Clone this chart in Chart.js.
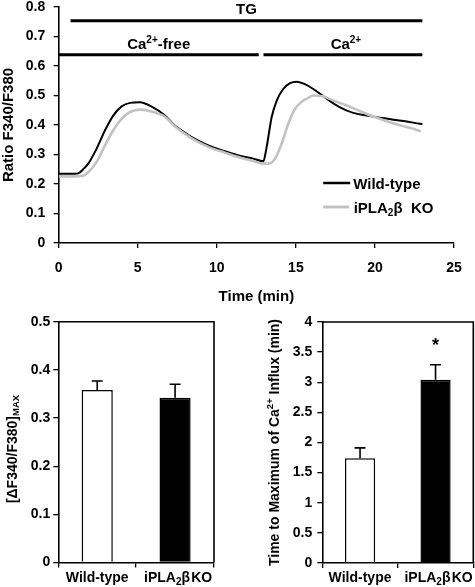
<!DOCTYPE html>
<html><head><meta charset="utf-8">
<script src="https://cdn.jsdelivr.net/npm/chart.js@4.4.1/dist/chart.umd.min.js"></script>
<style>
html,body{margin:0;padding:0;background:#fff;}
#wrap{position:relative;width:475px;height:587px;overflow:hidden;background:#fff;}
canvas{position:absolute;}
</style></head><body>
<div id="wrap">
<canvas id="topChart" width="475" height="312" style="left:0;top:0"></canvas>
<canvas id="barL" width="240" height="287" style="left:0;top:300px"></canvas>
<canvas id="barR" width="235" height="287" style="left:240px;top:300px"></canvas>
</div>
<script>
// ---------- data ----------
const wtTime  = [0, 0.5, 1.0, 1.24, 1.55, 1.87, 2.4, 2.93, 3.45, 3.98, 4.51, 5.14, 5.88, 6.72, 7.36, 7.88, 8.41, 9.46, 10.52, 11.57, 12.3, 12.94, 13.15, 13.47, 13.79, 14.2, 14.63, 15.05, 15.5, 16.1, 16.95, 17.79, 18.63, 19.48, 20.32, 21.16, 22.01, 22.85, 23.0];
const wtRatio = [0.235, 0.235, 0.235, 0.236, 0.25, 0.269, 0.32, 0.382, 0.432, 0.463, 0.475, 0.477, 0.462, 0.432, 0.397, 0.378, 0.359, 0.331, 0.311, 0.294, 0.286, 0.277, 0.325, 0.427, 0.483, 0.522, 0.542, 0.547, 0.54, 0.522, 0.489, 0.46, 0.441, 0.432, 0.425, 0.418, 0.412, 0.404, 0.403];
const koTime  = [0, 0.5, 1.0, 1.45, 1.87, 2.4, 2.93, 3.45, 3.98, 4.51, 5.14, 5.88, 6.72, 7.36, 8.41, 9.46, 10.52, 11.57, 12.3, 12.9, 13.26, 13.68, 14.1, 14.52, 14.95, 15.47, 15.68, 16.1, 16.73, 17.37, 18.22, 19.06, 19.9, 20.75, 21.59, 22.43, 22.9];
const koRatio = [0.226, 0.226, 0.226, 0.227, 0.24, 0.275, 0.331, 0.382, 0.421, 0.444, 0.452, 0.446, 0.428, 0.395, 0.355, 0.326, 0.306, 0.288, 0.278, 0.269, 0.269, 0.286, 0.337, 0.404, 0.455, 0.483, 0.489, 0.5, 0.497, 0.483, 0.466, 0.447, 0.429, 0.413, 0.399, 0.387, 0.379];

const tgSpan = [0.75, 23];      const tgLevel = 0.753;
const freeSpan = [0, 12.65];    const caSpan = [12.95, 23];   const bathLevel = 0.638;

const barCategories = ['Wild-type', 'iPLA2β KO'];
const deltaMaxMean = [0.358, 0.342];
const deltaMaxErr  = [0.019, 0.028];
const timeMaxMean  = [1.74, 3.04];
const timeMaxErr   = [0.17, 0.25];
const significant  = [false, true];

// ---------- helpers ----------
const F = '"Liberation Sans", Arial, Helvetica, sans-serif';
Chart.defaults.font.family = F;
Chart.defaults.font.weight = 'bold';
Chart.defaults.color = '#000';
function pts(xs, ys){ return xs.map((x,i)=>({x:x, y:ys[i]})); }
function richWidth(ctx, parts){ let w=0; parts.forEach(p=>{ctx.font='bold '+p[1]+'px '+F; w+=ctx.measureText(p[0]).width;}); return w; }
function drawRich(ctx, parts, x, y, align){
  const w = richWidth(ctx, parts);
  let cx = align==='center' ? x - w/2 : (align==='right' ? x - w : x);
  ctx.textAlign='left'; ctx.textBaseline='alphabetic'; ctx.fillStyle='#000';
  parts.forEach(p=>{ ctx.font='bold '+p[1]+'px '+F; ctx.fillText(p[0], cx, y + (p[2]||0)); cx += ctx.measureText(p[0]).width; });
}
function labelParts(lbl, size){
  if (lbl.indexOf('iPLA2') === 0) return [['iPLA',size],['2',Math.round(size*0.7),3],[lbl.slice(5).replace(' ','\u200A'),size]];
  return [[lbl,size]];
}
const axisGrid = {display:true, drawOnChartArea:false, drawTicks:true, tickLength:5, color:'#000', lineWidth:1.3};
const axisBorder = {display:true, color:'#000', width:1.6};

// ---------- top time-course chart ----------
const topPlugin = {
  id:'topDecor',
  afterDraw(chart){
    const ctx = chart.ctx, xs = chart.scales.x, ys = chart.scales.y, ca = chart.chartArea;
    ctx.save();
    drawRich(ctx, [['TG',15]], xs.getPixelForValue((tgSpan[0]+tgSpan[1])/2), ys.getPixelForValue(tgLevel)-7, 'center');
    drawRich(ctx, [['Ca',15],['2+',10,-6],['-free',15]], xs.getPixelForValue((freeSpan[0]+freeSpan[1])/2), ys.getPixelForValue(bathLevel)-6, 'center');
    drawRich(ctx, [['Ca',15],['2+',10,-6]], xs.getPixelForValue((caSpan[0]+caSpan[1])/2)+3, ys.getPixelForValue(bathLevel)-6, 'center');
    const lx = ca.left + 264.5, ly1 = ca.top + 176, ly2 = ca.top + 200;
    ctx.lineWidth = 2.5; ctx.strokeStyle = '#000';
    ctx.beginPath(); ctx.moveTo(lx, ly1); ctx.lineTo(lx+27, ly1); ctx.stroke();
    ctx.strokeStyle = '#c2c2c2'; ctx.lineWidth = 3;
    ctx.beginPath(); ctx.moveTo(lx, ly2); ctx.lineTo(lx+26, ly2); ctx.stroke();
    drawRich(ctx, [['Wild-type',15]], lx+30, ly1+5.5, 'left');
    drawRich(ctx, [['iPLA',15],['2',10,3],['β  KO',15]], lx+30.5, ly2+5.5, 'left');
    drawRich(ctx, [['Time (min)',15]], (ca.left+ca.right)/2, 300.5, 'center');
    ctx.translate(13.2, (ca.top+ca.bottom)/2); ctx.rotate(-Math.PI/2);
    drawRich(ctx, [['Ratio F340/F380',15]], 0, 0, 'center');
    ctx.restore();
  }
};
new Chart(document.getElementById('topChart'), {
  type:'line',
  data:{ datasets:[
    {label:'TG', data:pts(tgSpan,[tgLevel,tgLevel]), borderColor:'#000', borderWidth:3, pointRadius:0},
    {label:'Ca-free', data:pts(freeSpan,[bathLevel,bathLevel]), borderColor:'#000', borderWidth:3, pointRadius:0},
    {label:'Ca', data:pts(caSpan,[bathLevel,bathLevel]), borderColor:'#000', borderWidth:3, pointRadius:0},
    {label:'iPLA2β KO', data:pts(koTime,koRatio), borderColor:'#c2c2c2', borderWidth:2.6, pointRadius:0, cubicInterpolationMode:'monotone'},
    {label:'Wild-type', data:pts(wtTime,wtRatio), borderColor:'#000', borderWidth:2, pointRadius:0, cubicInterpolationMode:'monotone'}
  ]},
  options:{
    responsive:false, devicePixelRatio:1, animation:false,
    layout:{padding:{left:0,right:21,top:7,bottom:0}},
    plugins:{legend:{display:false}, tooltip:{enabled:false}},
    scales:{
      x:{type:'linear', min:0, max:25, grid:axisGrid, border:axisBorder,
         ticks:{stepSize:5, padding:12, font:{size:14, weight:'bold'}, color:'#000'},
         afterFit(s){ s.height = 69; s.paddingLeft = 0; s.paddingRight = 0; }},
      y:{type:'linear', min:0, max:0.8, grid:axisGrid, border:axisBorder,
         ticks:{stepSize:0.1, padding:8.5, font:{size:14, weight:'bold'}, color:'#000', callback:v=>String(+v.toFixed(1))},
         afterFit(s){ s.width = 58.7; s.paddingTop = 0; s.paddingBottom = 0; }}
    }
  },
  plugins:[topPlugin]
});

// ---------- bar charts ----------
function makeBar(id, means, errs, yMax, step, yWidth, padRight, padTop, xHeight, tickPad, titleParts, titleX, titleY, fmt){
  const plugin = {
    id:'barDecor'+id,
    afterDraw(chart){
      const ctx = chart.ctx, xs = chart.scales.x, ys = chart.scales.y, ca = chart.chartArea;
      ctx.save();
      ctx.strokeStyle = '#000'; ctx.lineWidth = 1.6;
      ctx.beginPath(); ctx.moveTo(ca.left, ca.top); ctx.lineTo(ca.right, ca.top); ctx.lineTo(ca.right, ca.bottom); ctx.stroke();
      means.forEach((m,i)=>{
        const x = xs.getPixelForValue(i), y0 = ys.getPixelForValue(m), y1 = ys.getPixelForValue(m+errs[i]);
        ctx.beginPath(); ctx.moveTo(x, y0); ctx.lineTo(x, y1); ctx.moveTo(x-5.5, y1); ctx.lineTo(x+5.5, y1); ctx.stroke();
        if (chart.config.options.sig && chart.config.options.sig[i]) drawRich(ctx, [['*',18]], x, y1-14, 'center');
      });
      barCategories.forEach((c,i)=>{ drawRich(ctx, labelParts(c,14), xs.getPixelForValue(i)+(i?3:0), ca.bottom+19.3, 'center'); });
      ctx.translate(titleX, titleY); ctx.rotate(-Math.PI/2);
      drawRich(ctx, titleParts, 0, 0, 'center');
      ctx.restore();
    }
  };
  return new Chart(document.getElementById(id), {
    type:'bar',
    data:{ labels:barCategories, datasets:[{data:means, backgroundColor:['#ffffff','#000000'], borderColor:'#000', borderWidth:1.5, barPercentage:0.4, categoryPercentage:1.0}]},
    options:{
      responsive:false, devicePixelRatio:1, animation:false,
      sig: id==='barR' ? significant : null,
      layout:{padding:{left:0,right:padRight,top:padTop,bottom:0}},
      plugins:{legend:{display:false}, tooltip:{enabled:false}},
      scales:{
        x:{grid:Object.assign({},axisGrid,{offset:true}), border:axisBorder, ticks:{display:false},
           afterFit(s){ s.height = xHeight; s.paddingLeft = 0; s.paddingRight = 0; }},
        y:{min:0, max:yMax, grid:axisGrid, border:axisBorder,
           ticks:{stepSize:step, padding:tickPad, font:{size:14, weight:'bold'}, color:'#000', callback:fmt},
           afterFit(s){ s.width = yWidth; s.paddingTop = 0; s.paddingBottom = 0; }}
      }
    },
    plugins:[plugin]
  });
}
makeBar('barL', deltaMaxMean, deltaMaxErr, 0.5, 0.1, 58.3, 26, 21.7, 24.5, 3,
  [['[ΔF340/F380]',14],['MAX',9.5,2]], 17, 149, v=>String(+v.toFixed(1)));
makeBar('barR', timeMaxMean, timeMaxErr, 4, 0.5, 82.3, 1.7, 22, 24, 5,
  [['Time to Maximum of Ca',14],['2+',9.5,-5.5],[' Influx (min)',14]], 38.5, 142.5, v=>String(+v.toFixed(1)));
</script>
</body></html>
